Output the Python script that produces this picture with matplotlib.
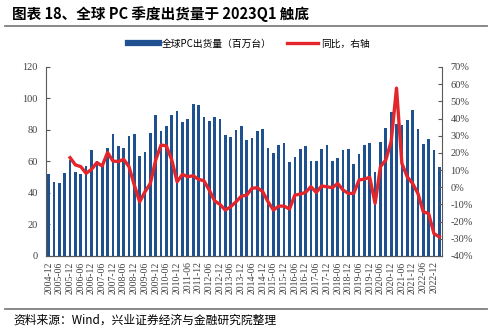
import matplotlib
matplotlib.use("Agg")
import matplotlib.pyplot as plt
from matplotlib.lines import Line2D
import numpy as np

plt.rcParams["font.family"] = ["Noto Sans CJK SC", "DejaVu Sans"]
plt.rcParams["axes.unicode_minus"] = False

# 季度标签：2004Q4 至 2023Q1
quarters = []
for year in range(2004, 2024):
    for month in ("03", "06", "09", "12"):
        quarters.append(f"{year}-{month}")
quarters = quarters[quarters.index("2004-12"):quarters.index("2023-03") + 1]

# 全球PC出货量（百万台）
shipments = [
    52.0, 47.0, 46.3, 52.7, 61.0, 53.2, 52.3, 57.0,
    67.0, 60.4, 58.0, 68.5, 77.5, 69.6, 68.3, 76.4,
    77.5, 63.6, 66.3, 78.2, 89.8, 79.2, 82.4, 89.8,
    92.0, 85.2, 86.8, 96.3, 96.0, 88.5, 85.4, 88.4,
    87.1, 76.6, 75.6, 80.0, 82.4, 73.5, 74.9, 79.6,
    80.4, 68.5, 65.1, 70.6, 71.9, 59.8, 62.6, 67.7,
    70.0, 60.4, 60.6, 68.1, 70.6, 60.4, 62.4, 67.5,
    68.1, 58.5, 64.7, 70.2, 71.7, 53.0, 72.1, 81.3,
    91.5, 84.1, 83.4, 86.6, 92.6, 80.4, 71.1, 74.3,
    67.0, 56.8,
]

# 同比（%），自 2005Q4 起
yoy = [
    17.2, 13.0, 12.0, 8.1, 10.4, 14.3, 12.4, 20.2,
    15.3, 14.9, 16.3, 12.0, 1.3, -8.5, -2.6, 2.2,
    15.9, 24.6, 24.0, 15.9, 3.2, 7.5, 6.1, 6.7,
    4.6, 3.8, -1.6, -7.9, -10.0, -13.3, -11.4, -8.5,
    -5.2, -4.6, -0.6, -0.3, -2.6, -8.5, -13.3, -11.0,
    -11.0, -12.7, -4.6, -4.0, -3.0, 0.3, -3.0, 0.7,
    0.3, -0.3, 2.2, -1.6, -3.6, -3.6, 4.2, 4.8,
    5.7, -9.4, 12.0, 15.9, 26.6, 57.7, 13.9, 6.1,
    2.2, -3.6, -14.3, -15.3, -27.0, -28.9,
]

bar_color = "#1F5190"
line_color = "#E3262B"
axis_color = "#595959"
tick_font = {"family": "Liberation Serif", "size": 7.5, "color": "#404040"}

fig = plt.figure(figsize=(5, 3.35), dpi=100)
ax = fig.add_axes([0.092, 0.236, 0.792, 0.564])

x = np.arange(len(shipments))
ax.bar(x, shipments, width=0.5, color=bar_color, zorder=2)
ax.set_xlim(-0.5, len(shipments) - 0.5)
ax.set_ylim(0, 120)
ax.set_yticks(range(0, 121, 20))
ax.set_yticklabels([str(v) for v in range(0, 121, 20)], fontdict=tick_font)
ax.set_xticks(x[::2])
ax.set_xticklabels(quarters[::2], rotation=90, fontdict={**tick_font, "size": 7})
ax.tick_params(axis="x", length=0, pad=4)
ax.tick_params(axis="y", direction="in", length=3, color=axis_color, pad=6)

ax2 = ax.twinx()
x_yoy = x[len(shipments) - len(yoy):]
ax2.plot(x_yoy, yoy, color=line_color, linewidth=2.4, solid_joinstyle="round", zorder=3)
ax2.set_ylim(-40, 70)
ax2.set_yticks(range(-40, 71, 10))
ax2.set_yticklabels([f"{v}%" for v in range(-40, 71, 10)], fontdict=tick_font)
ax2.tick_params(axis="y", direction="in", length=3, color=axis_color, pad=6)

for a in (ax, ax2):
    a.spines["top"].set_visible(False)
    for side in ("left", "right", "bottom"):
        a.spines[side].set_color(axis_color)
        a.spines[side].set_linewidth(0.8)
ax.spines["right"].set_visible(False)
ax2.spines["left"].set_visible(False)

handles = [
    Line2D([0], [0], color=bar_color, linewidth=4.5),
    Line2D([0], [0], color=line_color, linewidth=2.4),
]
fig.legend(handles, ["全球PC出货量（百万台）", "同比，右轴"], loc="center",
           bbox_to_anchor=(0.498, 0.869), ncol=2, frameon=False,
           prop={"family": "Noto Sans CJK SC", "size": 7},
           handlelength=3.2, columnspacing=1.6, handletextpad=0.3)

fig.text(0.024, 0.958, "图表 18、全球 PC 季度出货量于 2023Q1 触底",
         fontsize=10.5, fontweight="bold", va="center", ha="left")
fig.add_artist(Line2D([0.01, 0.974], [0.922, 0.922], color="#7F7F7F", linewidth=1.3))
fig.add_artist(Line2D([0.01, 0.974], [0.078, 0.078], color="#7F7F7F", linewidth=1.3))
fig.text(0.026, 0.045, "资料来源：Wind，兴业证券经济与金融研究院整理",
         fontsize=8.5, va="center", ha="left")

fig.savefig("out.png", dpi=100)
